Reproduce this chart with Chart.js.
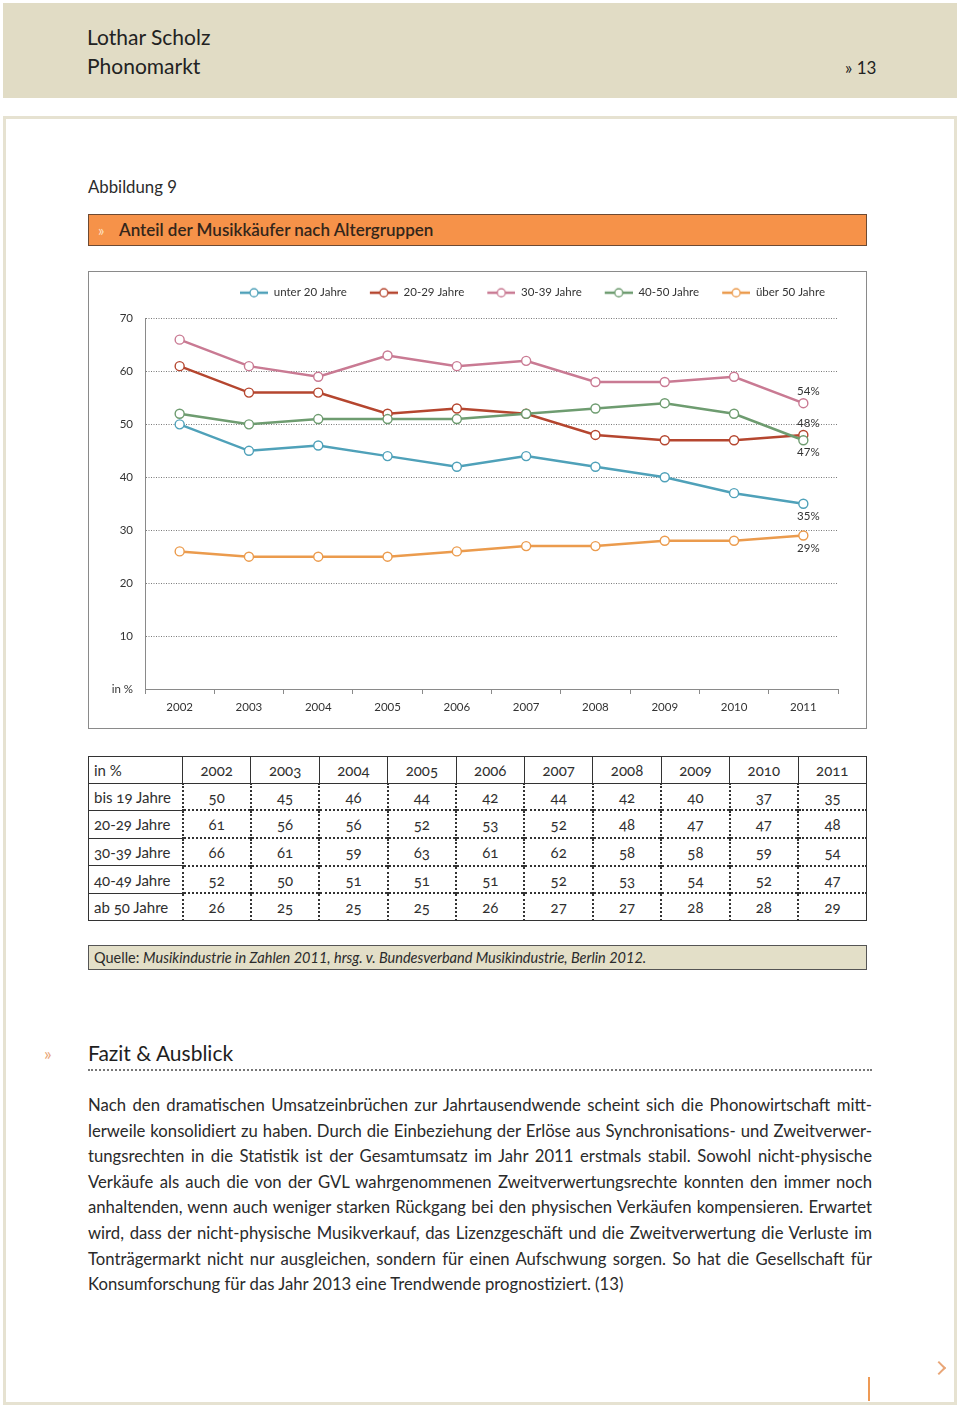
<!DOCTYPE html>
<html lang="de">
<head>
<meta charset="utf-8">
<title>Anteil der Musikkäufer nach Altergruppen</title>
<script src="https://cdn.jsdelivr.net/npm/chart.js@4.4.1/dist/chart.umd.min.js"></script>
<style>
  html, body { margin: 0; padding: 0; background: #fff; }
  body { width: 960px; height: 1408px; position: relative; overflow: hidden;
         font-family: Lato, "Open Sans", sans-serif; color: #2b2b2b; }
  .abs { position: absolute; }
  #head { left: 3px; top: 3px; width: 954px; height: 95px; background: #e1dcc5; }
  #frame { left: 3px; top: 116px; width: 948px; height: 1283px; border: 3px solid #e6e2d1; }
  #titlebar { left: 88px; top: 214px; width: 777px; height: 30px; background: #f69249;
              border: 1px solid #6d4a33; }
  #chartbox { left: 88px; top: 271px; width: 777px; height: 456px; border: 1px solid #8a8a8a; }
  #quelle { left: 88px; top: 945px; width: 777px; height: 23px; background: #e3dfc8;
            border: 1px solid #555; font-size: 14.5px; line-height: 23px; }
  table { border-collapse: collapse; font-size: 15px; font-feature-settings: "onum"; }
  td { height: 25.7px; padding: 0; text-align: center; color: #2f2f2f; }
  td:first-child { text-align: left; padding-left: 5px; border-right: 1.5px solid #333; }
  tr.h td { border-bottom: 1.5px solid #333; border-left: 1.5px solid #333; }
  tr.b td { border-top: 2px dotted #333; border-left: 2px dotted #333; }
  tr.b td:first-child { border-top: 1.5px solid #333; border-left: none; }
  tr.b:nth-child(2) td { border-top: none; }
  .line { white-space: nowrap; text-align: justify; text-align-last: justify; height: 25.6px; line-height: 25.6px; }
</style>
</head>
<body>
<div class="abs" id="head"></div>
<div class="abs" style="left:87px;top:24px;font-size:21px;line-height:26px;color:#222;">Lothar Scholz</div>
<div class="abs" style="left:87px;top:53px;font-size:21px;line-height:26px;color:#222;">Phonomarkt</div>
<div class="abs" style="left:845px;top:57px;font-size:17px;line-height:22px;color:#222;">» 13</div>

<div class="abs" id="frame"></div>

<div class="abs" style="left:88px;top:177px;font-size:16.8px;line-height:20px;">Abbildung 9</div>

<div class="abs" id="titlebar"></div>
<div class="abs" style="left:98px;top:220px;font-size:15px;line-height:20px;color:#fde2c6;">»</div>
<div class="abs" style="left:119px;top:219px;font-size:17px;line-height:22px;font-weight:600;color:#33261b;">Anteil der Musikkäufer nach Altergruppen</div>

<div class="abs" id="chartbox"><canvas id="chart" width="777" height="456"></canvas></div>

<div class="abs" style="left:88px;top:756px;">
  <table id="tbl" style="width:779px;border:1.5px solid #333;"></table>
</div>

<div class="abs" id="quelle"><span style="padding-left:5px;">Quelle: </span><i>Musikindustrie in Zahlen 2011, hrsg. v. Bundesverband Musikindustrie, Berlin 2012.</i></div>

<div class="abs" style="left:44px;top:1042px;font-size:18px;line-height:22px;color:#e9a677;">»</div>
<div class="abs" style="left:88px;top:1040px;font-size:21px;line-height:26px;color:#1e1e1e;">Fazit &amp; Ausblick</div>
<div class="abs" style="left:88px;top:1069px;width:784px;border-top:2px dotted #777;"></div>

<div class="abs" style="left:88px;top:1093px;width:784px;font-size:16.7px;color:#2a2a2a;">
  <div class="line">Nach den dramatischen Umsatzeinbrüchen zur Jahrtausendwende scheint sich die Phonowirtschaft mitt-</div>
  <div class="line">lerweile konsolidiert zu haben. Durch die Einbeziehung der Erlöse aus Synchronisations- und Zweitverwer-</div>
  <div class="line">tungsrechten in die Statistik ist der Gesamtumsatz im Jahr 2011 erstmals stabil. Sowohl nicht-physische</div>
  <div class="line">Verkäufe als auch die von der GVL wahrgenommenen Zweitverwertungsrechte konnten den immer noch</div>
  <div class="line">anhaltenden, wenn auch weniger starken Rückgang bei den physischen Verkäufen kompensieren. Erwartet</div>
  <div class="line">wird, dass der nicht-physische Musikverkauf, das Lizenzgeschäft und die Zweitverwertung die Verluste im</div>
  <div class="line">Tonträgermarkt nicht nur ausgleichen, sondern für einen Aufschwung sorgen. So hat die Gesellschaft für</div>
  <div style="height:25.6px;line-height:25.6px;">Konsumforschung für das Jahr 2013 eine Trendwende prognostiziert. (13)</div>
</div>

<div class="abs" style="left:934px;top:1363px;width:8px;height:8px;border-top:2px solid #e9a677;border-right:2px solid #e9a677;transform:rotate(45deg);"></div>
<div class="abs" style="left:868px;top:1377px;width:2px;height:24px;background:#ee9a55;"></div>

<script>
// Anteil der Musikkäufer nach Altersgruppen, in %
const years = ['2002', '2003', '2004', '2005', '2006', '2007', '2008', '2009', '2010', '2011'];
const legendNames = ['unter 20 Jahre', '20-29 Jahre', '30-39 Jahre', '40-50 Jahre', 'über 50 Jahre'];
const tableNames = ['bis 19 Jahre', '20-29 Jahre', '30-39 Jahre', '40-49 Jahre', 'ab 50 Jahre'];
const colors = ['#4fa1b9', '#b5462f', '#c97a93', '#6e9c70', '#eb9b4d'];

const bis19 = [50, 45, 46, 44, 42, 44, 42, 40, 37, 35];
const j20bis29 = [61, 56, 56, 52, 53, 52, 48, 47, 47, 48];
const j30bis39 = [66, 61, 59, 63, 61, 62, 58, 58, 59, 54];
const j40bis49 = [52, 50, 51, 51, 51, 52, 53, 54, 52, 47];
const ab50 = [26, 25, 25, 25, 26, 27, 27, 28, 28, 29];
const seriesValues = [bis19, j20bis29, j30bis39, j40bis49, ab50];

const yTicks = [0, 10, 20, 30, 40, 50, 60, 70];
// offset of the end label, px (negative = above the point)
const endLabelOffset = [13, -12, -12, 12, 13];

const chartFont = 'Lato, "Open Sans", sans-serif';

// table below the chart
function buildTable() {
    const tbl = document.getElementById('tbl');
    let html = '<tr class="h"><td style="width:88px">in %</td>';
    years.forEach(y => { html += '<td>' + y + '</td>'; });
    html += '</tr>';
    seriesValues.forEach((vals, i) => {
        html += '<tr class="b"><td>' + tableNames[i] + '</td>';
        vals.forEach(v => { html += '<td>' + v + '</td>'; });
        html += '</tr>';
    });
    tbl.innerHTML = html;
}

// small line-with-circle marker for the legend
function legendMarker(color) {
    const c = document.createElement('canvas');
    c.width = 46;
    c.height = 12;
    const g = c.getContext('2d');
    g.strokeStyle = color;
    g.lineWidth = 2.5;
    g.beginPath();
    g.moveTo(18, 6);
    g.lineTo(46, 6);
    g.stroke();
    g.beginPath();
    g.arc(32, 6, 4, 0, Math.PI * 2);
    g.fillStyle = '#fff';
    g.fill();
    g.lineWidth = 1.3;
    g.stroke();
    return c;
}

const endLabels = {
    id: 'endLabels',
    afterDatasetsDraw(chart) {
        const ctx = chart.ctx;
        ctx.save();
        ctx.font = '11.5px ' + chartFont;
        ctx.fillStyle = '#333';
        ctx.textAlign = 'center';
        ctx.textBaseline = 'middle';
        chart.data.datasets.forEach((ds, i) => {
            const meta = chart.getDatasetMeta(i);
            const pt = meta.data[meta.data.length - 1];
            const v = ds.data[ds.data.length - 1];
            ctx.fillText(v + '%', pt.x + 5, pt.y + endLabelOffset[i]);
        });
        ctx.restore();
    }
};

// give the legend more room (plot starts lower) and pull it a bit left
const legendSpace = {
    id: 'legendSpace',
    afterInit(chart) {
        const legend = chart.legend;
        const fit = legend.fit;
        const draw = legend.draw;
        legend.fit = function() {
            fit.call(this);
            this.height += 10;
        };
        legend.draw = function() {
            this.ctx.save();
            this.ctx.translate(-8, 0);
            draw.call(this);
            this.ctx.restore();
        };
    }
};

function initChart() {
    const ctx = document.getElementById('chart').getContext('2d');
    const drawOrder = [0, 2, 1, -1, 0];
    new Chart(ctx, {
        type: 'line',
        data: {
            labels: years,
            datasets: seriesValues.map((vals, i) => ({
                label: legendNames[i],
                data: vals,
                borderColor: colors[i],
                backgroundColor: '#fff',
                borderWidth: 2.5,
                pointRadius: 4.5,
                pointBorderWidth: 1.4,
                pointBackgroundColor: '#fff',
                pointBorderColor: colors[i],
                order: drawOrder[i],
                tension: 0
            }))
        },
        options: {
            responsive: false,
            animation: false,
            layout: { padding: { top: 10, right: 28, left: 0, bottom: 0 } },
            plugins: {
                tooltip: { enabled: false },
                legend: {
                    align: 'end',
                    labels: {
                        usePointStyle: true,
                        pointStyleWidth: 46,
                        padding: 5,
                        color: '#333',
                        font: { family: chartFont, size: 11.5 },
                        generateLabels(chart) {
                            return chart.data.datasets.map((ds, i) => ({
                                text: ds.label,
                                pointStyle: legendMarker(colors[i]),
                                fillStyle: '#fff',
                                strokeStyle: colors[i],
                                lineWidth: 0,
                                fontColor: '#333',
                                datasetIndex: i
                            }));
                        }
                    }
                }
            },
            scales: {
                x: {
                    offset: true,
                    afterFit(scale) { scale.height = 39; },
                    grid: {
                        offset: true,
                        drawOnChartArea: false,
                        drawTicks: true,
                        tickLength: 5,
                        color: '#8a8a8a'
                    },
                    border: { display: true, color: '#8a8a8a', width: 1 },
                    ticks: {
                        padding: 6,
                        color: '#333',
                        maxRotation: 0,
                        font: { family: chartFont, size: 11.5 }
                    }
                },
                y: {
                    min: 0,
                    max: 70,
                    afterFit(scale) { scale.width = 56; },
                    afterBuildTicks(scale) { scale.ticks = yTicks.map(v => ({ value: v })); },
                    grid: {
                        drawTicks: false,
                        color: c => c.tick && c.tick.value === 0 ? 'rgba(0,0,0,0)' : '#7a7a7a',
                        lineWidth: 1
                    },
                    // dash applies to the grid lines, the axis line stays solid
                    border: { display: true, color: '#8a8a8a', width: 1, dash: [1, 1.5] },
                    ticks: {
                        padding: 12,
                        color: '#333',
                        font: { family: chartFont, size: 11.5 },
                        callback: v => v === 0 ? 'in %' : String(v)
                    }
                }
            }
        },
        plugins: [endLabels, legendSpace]
    });
}

buildTable();
initChart();
</script>
</body>
</html>
